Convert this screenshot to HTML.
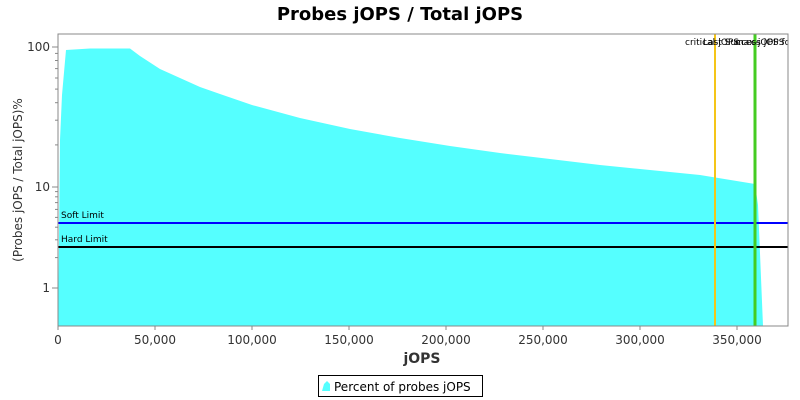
<!DOCTYPE html>
<html><head><meta charset="utf-8"><style>body{margin:0;background:#fff}svg{display:block}</style></head><body>
<svg width="800" height="400" xmlns="http://www.w3.org/2000/svg" font-family="DejaVu Sans, Liberation Sans, sans-serif">
<rect width="800" height="400" fill="#fff"/>
<text x="400" y="20" text-anchor="middle" font-size="18" font-weight="bold">Probes jOPS / Total jOPS</text>
<polygon fill="#55ffff" points="58,326 59,240 60,140 62,95 66,50 90,48.5 130,48.5 140,56 160,69 180,78 200,87 220,94 252,105 300,118 350,129 400,138 450,146 500,153 550,159 600,165 650,170 700,175 755,184 758,205 763,326"/>
<line x1="58" y1="223" x2="788" y2="223" stroke="#0000ff" stroke-width="2"/>
<line x1="58" y1="247" x2="788" y2="247" stroke="#000" stroke-width="2"/>
<line x1="715" y1="34" x2="715" y2="326" stroke="#f5c518" stroke-width="2"/>
<line x1="755" y1="34" x2="755" y2="326" stroke="#44cc22" stroke-width="3"/>
<text x="61" y="218" font-size="9">Soft Limit</text>
<text x="61" y="242" font-size="9">Hard Limit</text>
<text x="685" y="45" font-size="9">critical-jOPS</text>
<text x="703" y="45" font-size="9">Last Success jOPS</text>
<text x="735" y="45" font-size="9">max-jOPS for S</text>
<rect x="788" y="34" width="12" height="14" fill="#fff"/>
<rect x="58" y="34" width="730" height="292" fill="none" stroke="#888" stroke-width="1"/>
<g stroke="#888" stroke-width="1">
<line x1="52" y1="47" x2="58" y2="47"/><line x1="52" y1="187" x2="58" y2="187"/><line x1="52" y1="288" x2="58" y2="288"/>
<line x1="55" y1="144.9" x2="58" y2="144.9"/><line x1="55" y1="120.2" x2="58" y2="120.2"/><line x1="55" y1="102.7" x2="58" y2="102.7"/><line x1="55" y1="89.1" x2="58" y2="89.1"/><line x1="55" y1="78.0" x2="58" y2="78.0"/><line x1="55" y1="68.6" x2="58" y2="68.6"/><line x1="55" y1="60.5" x2="58" y2="60.5"/><line x1="55" y1="53.4" x2="58" y2="53.4"/>
<line x1="55" y1="257.6" x2="58" y2="257.6"/><line x1="55" y1="239.8" x2="58" y2="239.8"/><line x1="55" y1="227.2" x2="58" y2="227.2"/><line x1="55" y1="217.4" x2="58" y2="217.4"/><line x1="55" y1="209.4" x2="58" y2="209.4"/><line x1="55" y1="202.6" x2="58" y2="202.6"/><line x1="55" y1="196.8" x2="58" y2="196.8"/><line x1="55" y1="191.6" x2="58" y2="191.6"/>
<line x1="58" y1="326" x2="58" y2="330"/><line x1="155" y1="326" x2="155" y2="330"/><line x1="252" y1="326" x2="252" y2="330"/><line x1="349" y1="326" x2="349" y2="330"/><line x1="446" y1="326" x2="446" y2="330"/><line x1="543" y1="326" x2="543" y2="330"/><line x1="640" y1="326" x2="640" y2="330"/><line x1="737" y1="326" x2="737" y2="330"/>
</g>
<g font-size="12" fill="#333" text-anchor="end">
<text x="50" y="51">100</text><text x="50" y="191">10</text><text x="50" y="292">1</text>
</g>
<g font-size="12" fill="#333" text-anchor="middle">
<text x="58" y="344">0</text><text x="155" y="344">50,000</text><text x="252" y="344">100,000</text><text x="349" y="344">150,000</text><text x="446" y="344">200,000</text><text x="543" y="344">250,000</text><text x="640" y="344">300,000</text><text x="737" y="344">350,000</text>
</g>
<text x="422" y="363" text-anchor="middle" font-size="14" font-weight="bold" fill="#333">jOPS</text>
<text transform="translate(22,180) rotate(-90)" text-anchor="middle" font-size="12" fill="#333">(Probes jOPS / Total jOPS)%</text>
<rect x="318.5" y="375.5" width="164" height="21" fill="#fff" stroke="#000"/>
<polygon points="322,391 324,384 327,381 330,384 330,391" fill="#55ffff"/>
<text x="334" y="391" font-size="12">Percent of probes jOPS</text>
</svg>
</body></html>
